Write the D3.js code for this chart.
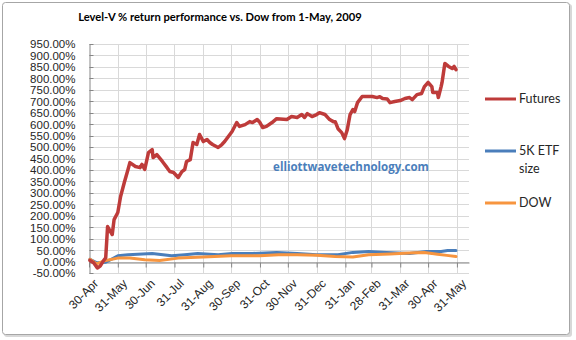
<!DOCTYPE html>
<html><head><meta charset="utf-8">
<script src="https://cdn.jsdelivr.net/npm/d3@7"></script>
<style>
html,body{margin:0;padding:0;background:#fff;}
svg{display:block;font-family:Lato,"Open Sans",sans-serif;}
</style></head>
<body>
<svg id="chart" width="576" height="340"></svg>
<script>
const title = "Level-V % return performance vs. Dow from 1-May, 2009";
const watermark = "elliottwavetechnology.com";
const seriesNames = ["Futures", "5K ETF size", "DOW"];
const seriesColors = ["#be3b3a", "#4a7ebb", "#f7953f"];

const tickDates = ["2009-04-30","2009-05-31","2009-06-30","2009-07-31","2009-08-31","2009-09-30","2009-10-31","2009-11-30","2009-12-31","2010-01-31","2010-02-28","2010-03-31","2010-04-30","2010-05-31"];
const tickLabels = ["30-Apr","31-May","30-Jun","31-Jul","31-Aug","30-Sep","31-Oct","30-Nov","31-Dec","31-Jan","28-Feb","31-Mar","30-Apr","31-May"];
const yTicks = d3.range(-50, 951, 50);

const futuresDates = ["2009-05-01","2009-05-05","2009-05-09","2009-05-12","2009-05-15","2009-05-18","2009-05-20","2009-05-25","2009-05-27","2009-05-31","2009-06-03","2009-06-07","2009-06-11","2009-06-13","2009-06-19","2009-06-24","2009-06-26","2009-06-29","2009-07-03","2009-07-07","2009-07-08","2009-07-12","2009-07-18","2009-07-23","2009-07-26","2009-07-30","2009-08-04","2009-08-08","2009-08-11","2009-08-13","2009-08-17","2009-08-20","2009-08-24","2009-08-27","2009-08-31","2009-09-04","2009-09-07","2009-09-10","2009-09-16","2009-09-20","2009-09-23","2009-09-27","2009-10-01","2009-10-06","2009-10-09","2009-10-15","2009-10-20","2009-10-23","2009-10-28","2009-10-31","2009-11-03","2009-11-07","2009-11-13","2009-11-18","2009-11-29","2009-12-04","2009-12-10","2009-12-15","2009-12-18","2009-12-21","2009-12-26","2009-12-31","2010-01-03","2010-01-09","2010-01-14","2010-01-18","2010-01-20","2010-01-23","2010-01-27","2010-01-30","2010-02-02","2010-02-05","2010-02-08","2010-02-10","2010-02-13","2010-02-18","2010-02-23","2010-03-01","2010-03-06","2010-03-09","2010-03-12","2010-03-17","2010-03-20","2010-03-25","2010-03-31","2010-04-05","2010-04-10","2010-04-13","2010-04-18","2010-04-23","2010-04-26","2010-04-30","2010-05-04","2010-05-05","2010-05-10","2010-05-11","2010-05-14","2010-05-15","2010-05-18","2010-05-22","2010-05-26","2010-05-28","2010-05-30"];
const futuresValues = [5,-5,-28,-20,0,17,153,118,183,214,284,345,402,432,415,410,424,402,476,489,454,467,437,410,393,389,367,393,402,437,445,520,511,555,524,533,520,511,498,511,524,546,568,607,590,598,611,607,620,607,585,590,607,624,620,633,629,642,629,646,633,642,650,642,620,611,611,580,563,537,576,642,664,655,694,721,721,721,716,720,712,710,694,699,703,712,716,707,729,734,764,782,764,738,738,716,764,782,865,852,843,852,838];

const etfDates = ["2009-05-01","2009-05-08","2009-05-18","2009-05-31","2009-06-11","2009-07-07","2009-07-28","2009-08-11","2009-08-25","2009-09-16","2009-10-01","2009-10-23","2009-11-18","2009-12-10","2009-12-31","2010-01-23","2010-02-08","2010-02-25","2010-03-16","2010-04-10","2010-04-28","2010-05-14","2010-05-21","2010-05-30"];
const etfValues = [10,-5,-3,25,30,35,25,30,35,30,35,35,40,35,30,30,40,44,40,35,44,44,48,48];

const dowDates = ["2009-05-01","2009-05-08","2009-05-18","2009-05-31","2009-06-13","2009-06-29","2009-07-15","2009-08-04","2009-08-31","2009-09-30","2009-10-31","2009-11-20","2009-12-10","2009-12-31","2010-01-20","2010-02-08","2010-02-25","2010-03-20","2010-04-15","2010-04-26","2010-05-10","2010-05-20","2010-05-30"];
const dowValues = [10,-10,5,15,15,8,5,15,20,25,25,30,30,28,22,20,30,33,38,40,32,27,22];

const svg = d3.select("#chart");

// chart frame
svg.append("rect").attr("x",4).attr("y",4).attr("width",568).attr("height",333).attr("rx",3)
  .attr("fill","#d8d8d8");
svg.append("rect").attr("x",2.5).attr("y",2.5).attr("width",567).attr("height",332).attr("rx",3)
  .attr("fill","#fff").attr("stroke","#a6a6a6").attr("stroke-width",1);

const parse = d3.timeParse("%Y-%m-%d");
const x = d3.scaleTime().domain([parse("2009-04-30"), parse("2010-06-13")]).range([89, 469]);
const y = d3.scaleLinear().domain([-50, 950]).range([273, 44]);

// gridlines
const g = svg.append("g");
g.selectAll("line.hg").data(yTicks).join("line")
  .attr("x1",89).attr("x2",469).attr("y1",d=>Math.round(y(d))+0.5).attr("y2",d=>Math.round(y(d))+0.5)
  .attr("stroke","#d9d9d9").attr("stroke-width",1);
g.selectAll("line.vg").data(tickDates.slice(1)).join("line")
  .attr("x1",d=>Math.round(x(parse(d)))+0.5).attr("x2",d=>Math.round(x(parse(d)))+0.5)
  .attr("y1",44).attr("y2",273).attr("stroke","#d9d9d9").attr("stroke-width",1);

// y axis
const yAxis = d3.axisLeft(y).tickValues(yTicks).tickSize(0).tickPadding(14)
  .tickFormat(d => d.toFixed(2) + "%");
const ya = svg.append("g").attr("transform","translate(89.5,0)").call(yAxis);
ya.select(".domain").attr("stroke","#868686");
ya.selectAll("text").attr("font-size",11.5).attr("fill","#262626").attr("dy","0.34em");
svg.append("g").selectAll("line").data(yTicks).join("line")
  .attr("x1",89.5).attr("x2",93.5).attr("y1",d=>Math.round(y(d))+0.5).attr("y2",d=>Math.round(y(d))+0.5)
  .attr("stroke","#868686");

// x axis at 0
const xAxis = d3.axisBottom(x).tickValues(tickDates.map(parse)).tickSizeInner(5).tickSizeOuter(0)
  .tickFormat((d,i) => tickLabels[i]);
const xa = svg.append("g").attr("transform",`translate(0,${Math.round(y(0))+0.5})`).call(xAxis);
xa.select(".domain").attr("stroke","#868686");
xa.selectAll(".tick line").attr("stroke","#868686");
xa.selectAll("text").attr("font-size",12).attr("fill","#262626")
  .attr("text-anchor","end").attr("dy",0)
  .attr("transform","translate(4,16) rotate(-45)");

// watermark
svg.append("text").attr("x",351).attr("y",171).attr("text-anchor","middle")
  .attr("font-size",11.5).attr("font-weight","bold").attr("fill","#4a7ebb")
  .attr("font-family","'Open Sans',sans-serif").text(watermark);

// lines
const line = d3.line().x(d=>x(d[0])).y(d=>y(d[1])).curve(d3.curveLinear);
const series = [
  {dates: etfDates, values: etfValues, color: seriesColors[1], w: 3},
  {dates: dowDates, values: dowValues, color: seriesColors[2], w: 3},
  {dates: futuresDates, values: futuresValues, color: seriesColors[0], w: 3.5},
];
series.forEach(s => {
  const pts = s.dates.map((d,i)=>[parse(d), s.values[i]]);
  svg.append("path").datum(pts).attr("d",line).attr("fill","none")
    .attr("stroke",s.color).attr("stroke-width",s.w).attr("stroke-linejoin","round").attr("stroke-linecap","round");
});

// title
svg.append("text").attr("x",220).attr("y",21).attr("text-anchor","middle")
  .attr("font-size",11.2).attr("font-weight","bold").attr("fill","#000").text(title);

// legend
const legend = [
  {lines:["Futures"], y:99, color:seriesColors[0]},
  {lines:["5K ETF","size"], y:151, color:seriesColors[1]},
  {lines:["DOW"], y:203, color:seriesColors[2]},
];
legend.forEach(l => {
  svg.append("line").attr("x1",485).attr("x2",516).attr("y1",l.y).attr("y2",l.y)
    .attr("stroke",l.color).attr("stroke-width",3);
  l.lines.forEach((t,i)=>{
    svg.append("text").attr("x",519).attr("y",l.y+4+i*18).attr("font-size",12.5)
      .attr("fill","#262626").text(t);
  });
});
</script>
</body></html>
